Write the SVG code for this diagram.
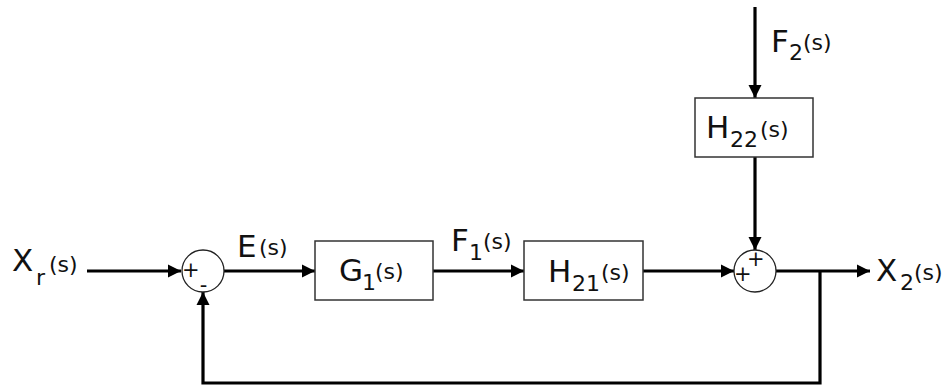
<svg xmlns="http://www.w3.org/2000/svg" width="947" height="387" viewBox="0 0 947 387">
  <style>
    text { font-family: "DejaVu Sans", Verdana, sans-serif; fill: #111; }
    .big { font-size: 31px; }
    .sub { font-size: 22px; }
    .par { font-size: 22px; }
    .sign { font-size: 21px; }
    .box { fill: #fff; stroke: #333; stroke-width: 1.5; }
    .sum { fill: #fff; stroke: #222; stroke-width: 1.3; }
    .wire { fill: none; stroke: #000; stroke-width: 3.2; }
  </style>
  <defs>
    <marker id="arrow" viewBox="0 0 10 10" refX="10" refY="5" markerWidth="4.2" markerHeight="4.2" orient="auto" markerUnits="strokeWidth">
      <path d="M0,0 L10,5 L0,10 z" fill="#000"/>
    </marker>
  </defs>
  <rect width="947" height="387" fill="#fff"/>

  <!-- signal wires -->
  <g id="connectors">
    <path class="wire" d="M87,271 H181" marker-end="url(#arrow)"/>
    <path class="wire" d="M224,271 H315" marker-end="url(#arrow)"/>
    <path class="wire" d="M433,271 H524" marker-end="url(#arrow)"/>
    <path class="wire" d="M643,271 H734" marker-end="url(#arrow)"/>
    <path class="wire" d="M776,271 H870" marker-end="url(#arrow)"/>
    <path class="wire" d="M755,7 V98" marker-end="url(#arrow)"/>
    <path class="wire" d="M755,157 V250" marker-end="url(#arrow)"/>
    <path class="wire" d="M820,271 V383 H203 V292" marker-end="url(#arrow)"/>
  </g>

  <!-- input and output labels -->
  <g id="input-xr">
    <text class="big" x="12" y="271">X<tspan class="sub" x="36" y="285">r</tspan><tspan class="par" x="49" y="272">(s)</tspan></text>
  </g>
  <g id="label-e">
    <text class="big" x="237" y="257">E<tspan class="par" x="259" y="255">(s)</tspan></text>
  </g>
  <g id="label-f1">
    <text class="big" x="451" y="251">F<tspan class="sub" x="469" y="260">1</tspan><tspan class="par" x="483" y="249">(s)</tspan></text>
  </g>
  <g id="input-f2">
    <text class="big" x="771" y="52">F<tspan class="sub" x="789" y="60">2</tspan><tspan class="par" x="803" y="50">(s)</tspan></text>
  </g>
  <g id="output-x2">
    <text class="big" x="876" y="281">X<tspan class="sub" x="900" y="290">2</tspan><tspan class="par" x="914" y="280">(s)</tspan></text>
  </g>

  <!-- summing junctions -->
  <g id="sum1">
    <circle class="sum" cx="203" cy="271" r="21"/>
    <text class="sign"><tspan x="182" y="277">+</tspan><tspan x="199.8" y="292">-</tspan></text>
  </g>
  <g id="sum2">
    <circle class="sum" cx="755" cy="271" r="21"/>
    <text class="sign"><tspan x="734" y="281">+</tspan><tspan x="747" y="266">+</tspan></text>
  </g>

  <!-- transfer blocks -->
  <g id="block-g1">
    <rect class="box" x="315" y="241" width="118" height="59"/>
    <text class="big" x="339" y="281">G<tspan class="sub" x="362" y="290">1</tspan><tspan class="par" x="375" y="279">(s)</tspan></text>
  </g>
  <g id="block-h21">
    <rect class="box" x="524" y="241" width="119" height="59"/>
    <text class="big" x="548" y="282">H<tspan class="sub" x="572" y="291">21</tspan><tspan class="par" x="601" y="280">(s)</tspan></text>
  </g>
  <g id="block-h22">
    <rect class="box" x="695" y="98" width="118" height="59"/>
    <text class="big" x="706" y="138">H<tspan class="sub" x="730" y="147">22</tspan><tspan class="par" x="760" y="137">(s)</tspan></text>
  </g>
</svg>
